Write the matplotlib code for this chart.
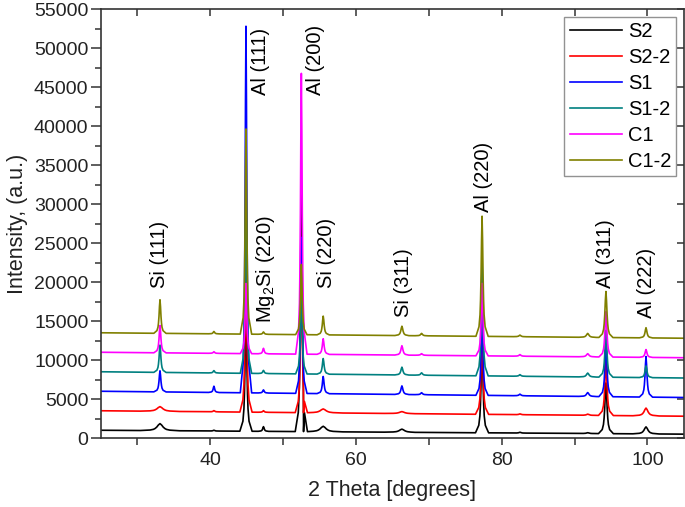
import numpy as np
import matplotlib
matplotlib.use("Agg")
import matplotlib.pyplot as plt

plt.rcParams['font.family'] = ['Liberation Sans', 'DejaVu Sans']
plt.rcParams['mathtext.default'] = 'regular'

# ---------------- data ----------------
series_names = ["S2", "S2-2", "S1", "S1-2", "C1", "C1-2"]
series_colors = ["#000000", "#ff0000", "#0000ff", "#008080", "#ff00ff", "#808000"]

# background level at 2theta = 25 and 2theta = 105
baseline_start = [1000, 3500, 6000, 8500, 11000, 13500]
baseline_end = [500, 2800, 5200, 7700, 10300, 12800]

# peak positions (2 theta, degrees)
peak_pos = [33.1, 40.5, 44.9, 47.3, 52.5, 55.5, 66.3, 69.0, 77.3, 82.5, 91.8, 94.3, 99.8]

# peak heights above background, one list per series
h_S2   = [900,  100, 16000, 600, 30600,  700,  400,   0, 12000, 100, 100, 6500,  900]
h_S2_2 = [600,  150, 19500, 200, 18000,  500,  250,   0, 11000, 100, 150, 7000, 1000]
h_S1   = [2700, 800, 47000, 400, 20000, 2200, 1100, 250, 11000, 200, 500, 7000, 5200]
h_S1_2 = [3500, 300, 24000, 400, 12500, 2000, 1000, 300, 14500, 200, 500, 6000, 1500]
h_C1   = [3500, 200,  9000, 700, 36000, 2000, 1200, 200,  9300, 200, 400, 5800, 1000]
h_C1_2 = [4300, 300, 26300, 300,  9000, 2400, 1200, 300, 15400, 200, 500, 5900, 1300]
heights = [h_S2, h_S2_2, h_S1, h_S1_2, h_C1, h_C1_2]

# peak half widths (degrees), one list per series
w_sharp = [0.14, 0.12, 0.13, 0.12, 0.13, 0.14, 0.16, 0.15, 0.14, 0.15, 0.2, 0.16, 0.15]
w_broad = [0.45, 0.12, 0.14, 0.12, 0.14, 0.45, 0.40, 0.15, 0.15, 0.15, 0.2, 0.17, 0.30]
widths = [w_broad, w_broad, w_sharp, w_sharp, w_sharp, w_sharp]

# peak outline template (offset in half widths, fraction of height)
shape_offsets = [-6, -3, -2, -1.5, -1, -0.5, 0, 0.5, 1, 1.5, 2, 3, 6]
shape_fracs = [0, 0.08, 0.18, 0.3, 0.5, 0.8, 1, 0.8, 0.5, 0.3, 0.18, 0.08, 0]

x_range = [25, 105]

# annotations: label, x, y (bottom of rotated text)
ann_labels = ["Si (111)", "Al (111)", "Mg$_2$Si (220)", "Al (200)", "Si (220)",
              "Si (311)", "Al (220)", "Al (311)", "Al (222)"]
ann_x = [33.1, 46.9, 47.6, 54.4, 55.9, 66.5, 77.5, 94.2, 99.9]
ann_y = [19300, 44000, 14700, 44000, 19300, 15500, 29000, 19300, 15400]

# ---------------- figure ----------------
fig = plt.figure(figsize=(6.85, 5.07), dpi=100)
ax = fig.add_axes([0.1474, 0.136, 0.851, 0.846])

for name, col, b0, b1, hs, ws in zip(series_names, series_colors, baseline_start,
                                      baseline_end, heights, widths):
    xs = [x_range[0], x_range[1]]
    ys = [0.0, 0.0]
    for p, h, w in zip(peak_pos, hs, ws):
        for o, f in zip(shape_offsets, shape_fracs):
            xs.append(p + o * w)
            ys.append(f * h)
    xs = np.array(xs)
    ys = np.array(ys)
    order = np.argsort(xs, kind="stable")
    xs = xs[order]
    ys = ys[order]
    base = np.interp(xs, x_range, [b0, b1])
    ax.plot(xs, base + ys, color=col, lw=1.2, label=name)

for lab, x, y in zip(ann_labels, ann_x, ann_y):
    ax.text(x, y, lab, rotation=90, ha='center', va='bottom', fontsize=14.5,
            color='black')

ax.set_xlim(25, 105)
ax.set_ylim(0, 55000)
ax.set_xticks([40, 60, 80, 100])
ax.set_xticks([30, 50, 70, 90], minor=True)
ax.set_yticks(np.arange(0, 55001, 5000))
ax.set_yticks(np.arange(2500, 55000, 5000), minor=True)

spine_col = '#333333'
for s in ax.spines.values():
    s.set_color(spine_col)
    s.set_linewidth(1.2)

ax.tick_params(axis='x', which='both', direction='out', length=5, width=1.1,
               color=spine_col, labelsize=14, pad=5, labelcolor='#222222')
ax.tick_params(axis='y', which='major', direction='out', length=7, width=1.1,
               color=spine_col, labelsize=14, pad=2, labelcolor='#222222')
ax.tick_params(axis='y', which='minor', direction='out', length=4, width=1.1,
               color=spine_col)

top = ax.secondary_xaxis('top')
top.set_xticks([30, 40, 50, 60, 70, 80, 90, 100])
top.tick_params(direction='in', length=5, width=1.1, color=spine_col, labeltop=False)
top.spines['top'].set_visible(False)
right = ax.secondary_yaxis('right')
right.set_yticks(np.arange(0, 55001, 5000))
right.tick_params(direction='in', length=5, width=1.1, color=spine_col, labelright=False)
right.spines['right'].set_visible(False)

ax.set_xlabel("2 Theta [degrees]", fontsize=15.5, labelpad=8, color='#222222')
ax.set_ylabel("Intensity, (a.u.)", fontsize=15.5, labelpad=4, color='#222222')

leg = ax.legend(loc='upper right', bbox_to_anchor=(0.987, 0.982), borderaxespad=0,
                fontsize=14.5, frameon=True, fancybox=False, edgecolor='#777777',
                handlelength=2.6, handletextpad=0.3, labelspacing=0.35,
                borderpad=0.25)
leg.get_frame().set_linewidth(1.0)

fig.savefig("out.png", dpi=100)
